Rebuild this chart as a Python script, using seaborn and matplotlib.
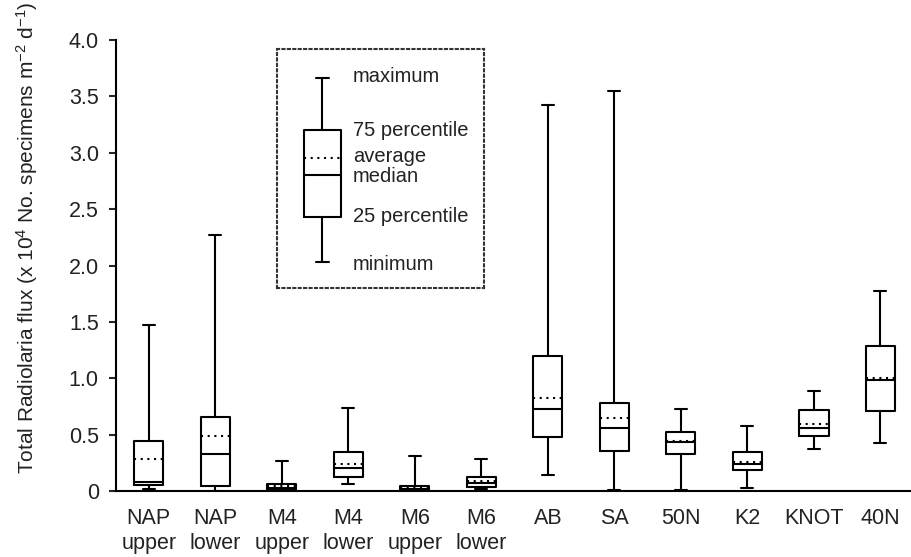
import numpy as np
import pandas as pd
import matplotlib
matplotlib.use("Agg")
import matplotlib.pyplot as plt
import seaborn as sns

# ---- data ----
sites = ["NAP\nupper", "NAP\nlower", "M4\nupper", "M4\nlower", "M6\nupper", "M6\nlower",
         "AB", "SA", "50N", "K2", "KNOT", "40N"]
minimum = [0.015, 0.003, 0.005, 0.065, 0.003, 0.015, 0.145, 0.009, 0.009, 0.027, 0.37, 0.424]
q25     = [0.053, 0.04, 0.01, 0.124, 0.01, 0.039, 0.48, 0.353, 0.326, 0.189, 0.492, 0.711]
median  = [0.083, 0.33, 0.025, 0.207, 0.02, 0.074, 0.726, 0.563, 0.436, 0.243, 0.563, 0.984]
average = [0.285, 0.49, 0.04, 0.24, 0.03, 0.089, 0.827, 0.646, 0.447, 0.255, 0.596, 1.0]
q75     = [0.44, 0.66, 0.06, 0.344, 0.044, 0.124, 1.20, 0.78, 0.52, 0.344, 0.714, 1.286]
maximum = [1.47, 2.27, 0.267, 0.74, 0.314, 0.284, 3.42, 3.55, 0.729, 0.575, 0.883, 1.77]

yticks = [0, 0.5, 1.0, 1.5, 2.0, 2.5, 3.0, 3.5, 4.0]
ytick_labels = ["0", "0.5", "1.0", "1.5", "2.0", "2.5", "3.0", "3.5", "4.0"]

legend_labels = ["maximum", "75 percentile", "average", "median", "25 percentile", "minimum"]

df = pd.DataFrame({"site": sites, "min": minimum, "q1": q25, "med": median,
                   "mean": average, "q3": q75, "max": maximum})

sns.set_style("ticks")
plt.rcParams["font.family"] = ["Liberation Sans", "DejaVu Sans"]
plt.rcParams["mathtext.fontset"] = "custom"
plt.rcParams["mathtext.rm"] = "Liberation Sans"
plt.rcParams["mathtext.it"] = "Liberation Sans"
plt.rcParams["mathtext.bf"] = "Liberation Sans"

TXT = "#222222"
LW = 1.5

fig = plt.figure(figsize=(9.11, 5.57), dpi=100)
ax = fig.add_axes([115.5 / 911, 1 - 491 / 557, 1 - 115.5 / 911, (491 - 40) / 557])

stats = []
for _, r in df.iterrows():
    stats.append(dict(label=r["site"], whislo=r["min"], q1=r["q1"], med=r["med"],
                      mean=r["mean"], q3=r["q3"], whishi=r["max"], fliers=[]))

lineprops = dict(color="black", linewidth=LW)
ax.bxp(stats, positions=np.arange(len(stats)), widths=0.44, showmeans=True, meanline=True,
       showfliers=False, boxprops=lineprops, whiskerprops=lineprops,
       capprops=lineprops, medianprops=lineprops,
       meanprops=dict(color="black", linewidth=LW, linestyle=(0, (1, 2.2))),
       capwidths=0.18, manage_ticks=False)

ax.set_xlim(-0.5, 11.46)
ax.set_ylim(0, 4.0)
ax.set_xticks(np.arange(len(sites)))
ax.set_xticklabels(sites, fontsize=15.5, color=TXT, linespacing=1.25)
ax.set_yticks(yticks)
ax.set_yticklabels(ytick_labels, fontsize=15.5, color=TXT)
ax.tick_params(axis="x", length=0, pad=12)
ax.tick_params(axis="y", length=5, width=LW, pad=7, direction="out")
sns.despine(ax=ax)
for s in ["left", "bottom"]:
    ax.spines[s].set_linewidth(LW)
    ax.spines[s].set_color("black")

ax.set_ylabel(r"Total Radiolaria flux (x 10$^{4}$ No. specimens m$^{-2}$ d$^{-1}$)",
              fontsize=15, color=TXT, labelpad=12)
ax.yaxis.set_label_coords(-0.095, 0.562, transform=ax.transAxes)

# ---- schematic legend (inset) ----
lax = fig.add_axes([277 / 911, 1 - 288 / 557, 207 / 911, 239 / 557])
lax.set_xlim(0, 207)
lax.set_ylim(0, 239)
for s in lax.spines.values():
    s.set_linestyle((0, (1, 1.6)))
    s.set_linewidth(1.5)
    s.set_color("#333333")
legend_stat = [dict(whislo=26, q1=71, med=113, mean=130, q3=158, whishi=210, fliers=[])]
lax.bxp(legend_stat, positions=[45], widths=37, showmeans=True, meanline=True,
        showfliers=False, boxprops=lineprops, whiskerprops=lineprops,
        capprops=lineprops, medianprops=lineprops,
        meanprops=dict(color="black", linewidth=LW, linestyle=(0, (1, 2.2))),
        capwidths=13, manage_ticks=False)
lax.set_xticks([])
lax.set_yticks([])
label_y = [211, 158, 131, 112, 72, 23]
for lab, yy in zip(legend_labels, label_y):
    lax.text(76, yy, lab, fontsize=14.5, color=TXT, ha="left", va="center")

fig.savefig("out.png", dpi=100)
